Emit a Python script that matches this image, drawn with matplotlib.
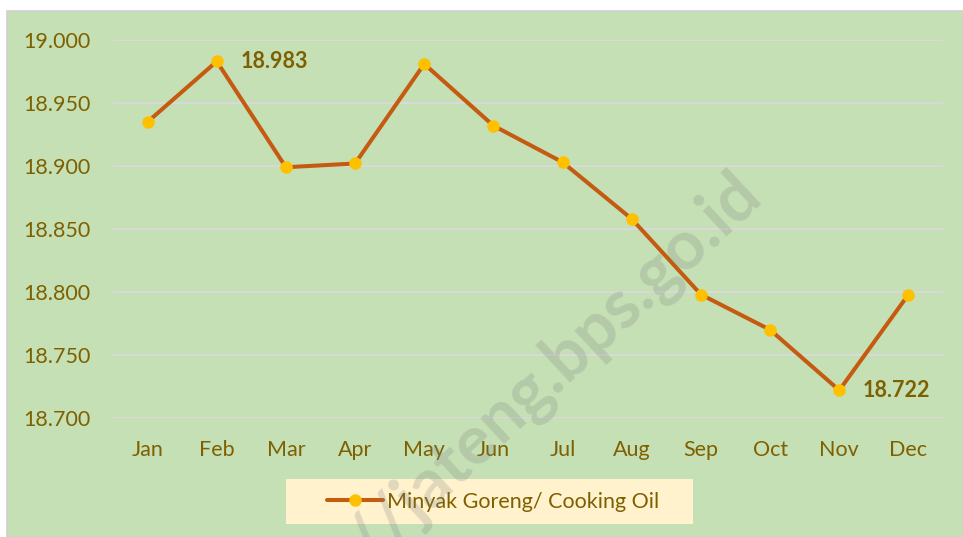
import matplotlib
matplotlib.use("Agg")
import matplotlib.pyplot as plt
from matplotlib.patches import Rectangle

months = ["Jan", "Feb", "Mar", "Apr", "May", "Jun",
          "Jul", "Aug", "Sep", "Oct", "Nov", "Dec"]
prices = [18.935, 18.983, 18.899, 18.902, 18.981, 18.932,
          18.903, 18.858, 18.798, 18.770, 18.722, 18.798]
yticks = [18.700, 18.750, 18.800, 18.850, 18.900, 18.950, 19.000]
series_name = "Minyak Goreng/ Cooking Oil"

txt_col = "#7F6000"
line_col = "#C55A11"
mark_col = "#FFC000"
bg_col = "#C5E0B4"

plt.rcParams["font.family"] = ["Lato", "DejaVu Sans"]

W, H = 963, 537
fig = plt.figure(figsize=(W / 100, H / 100), dpi=100)
fig.patch.set_facecolor("white")

# chart area background
fig.patches.append(Rectangle((7 / W, 0), 1 - 7 / W, 1 - 11 / H, transform=fig.transFigure,
                             facecolor=bg_col, edgecolor="#D0D0D0", lw=1.2, zorder=-2))
# legend background box
fig.patches.append(Rectangle((286 / W, 1 - 524 / H), 407 / W, 45 / H, transform=fig.transFigure,
                             facecolor="#FFF2CC", edgecolor="none", zorder=-1))

ax = fig.add_axes([113 / W, 1 - 418 / H, 830 / W, 378 / H])
ax.set_facecolor("none")
x = list(range(len(months)))
ax.plot(x, prices, color=line_col, lw=2.9, marker="o", ms=8,
        mfc=mark_col, mec=mark_col, label=series_name, zorder=3, solid_capstyle="round")

ax.set_xlim(-0.5, 11.5)
ax.set_ylim(18.700, 19.000)
ax.set_yticks(yticks)
ax.set_yticklabels([f"{v:.3f}" for v in yticks])
ax.set_xticks(x)
ax.set_xticklabels(months)
ax.tick_params(axis="y", length=0, pad=16, labelsize=15.5, labelcolor=txt_col)
ax.tick_params(axis="x", length=0, pad=16, labelsize=15.5, labelcolor=txt_col)
ax.grid(axis="y", color="#D9D9D9", lw=1.5)
ax.set_axisbelow(True)
for s in ax.spines.values():
    s.set_visible(False)

for i in (1, 10):
    ax.annotate(f"{prices[i]:.3f}", (x[i], prices[i]), xytext=(17, 0),
                textcoords="offset points", va="center", ha="left",
                fontsize=15.5, fontweight="bold", color=txt_col)

fig.legend(loc="center", bbox_to_anchor=((286 + 207) / W, 1 - 501.5 / H),
           frameon=False, fontsize=15.5, labelcolor=txt_col, handlelength=2.6,
           handletextpad=0.2)

# watermark
fig.text(730 / W, 1 - 160 / H, "https://jateng.bps.go.id", rotation=43,
         rotation_mode="anchor", ha="right", va="top", fontsize=49,
         fontweight="bold", color="#808080", alpha=0.24, zorder=10)

fig.savefig("out.png", dpi=100)
